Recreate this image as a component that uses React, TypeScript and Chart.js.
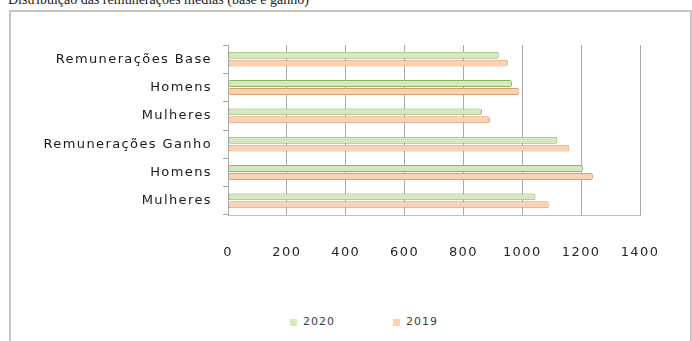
import { useEffect, useRef } from "react";
import { Chart, registerables } from "chart.js";

Chart.register(...registerables);

const titleText = "Distribuição das remunerações médias (base e ganho)";
const categories = [
  "Remunerações Base",
  "Homens",
  "Mulheres",
  "Remunerações Ganho",
  "Homens",
  "Mulheres",
];
const seriesNames = ["2020", "2019"];
const values2020 = [920, 965, 863, 1119, 1206, 1045];
const values2019 = [951, 990, 890, 1160, 1240, 1090];
const xMin = 0;
const xMax = 1400;
const xStep = 200;

const colors2020 = { fill: "#d5e8bf", edge: "#8fb163" };
const colors2019 = { fill: "#fbd3b2", edge: "#dd9b68" };

const spacingPlugin = {
  id: "letterSpacing",
  beforeDraw(chart: any) {
    chart.ctx.letterSpacing = "1.4px";
  },
  afterDraw(chart: any) {
    chart.ctx.letterSpacing = "0px";
  },
};

export default function App() {
  const ref = useRef<HTMLCanvasElement | null>(null);

  useEffect(() => {
    if (!ref.current) return;
    const font = { family: "'DejaVu Sans', Verdana, sans-serif", size: 13 };
    const barStyle = {
      borderWidth: 1,
      borderSkipped: false,
      borderRadius: 2,
      categoryPercentage: 0.56,
      barPercentage: 0.88,
    };
    const chart = new Chart(ref.current, {
      type: "bar",
      data: {
        labels: categories,
        datasets: [
          {
            label: seriesNames[0],
            data: values2020,
            backgroundColor: colors2020.fill,
            borderColor: colors2020.edge,
            ...barStyle,
          },
          {
            label: seriesNames[1],
            data: values2019,
            backgroundColor: colors2019.fill,
            borderColor: colors2019.edge,
            ...barStyle,
          },
        ],
      },
      options: {
        indexAxis: "y",
        responsive: false,
        animation: false,
        devicePixelRatio: 1,
        layout: { padding: { top: 33, right: 50, bottom: 37, left: 0 } },
        plugins: {
          legend: { display: false },
          title: { display: false },
          tooltip: { enabled: false },
        },
        scales: {
          x: {
            min: xMin,
            max: xMax,
            ticks: {
              stepSize: xStep,
              padding: 30,
              color: "#262626",
              font,
              maxRotation: 0,
              callback: (v: any) => String(v),
            },
            grid: { color: "#a9a9a9", drawTicks: false, lineWidth: 1 },
            border: { display: true, color: "#c0c0c0" },
            afterFit: (s: any) => {
              s.height = 50;
            },
          },
          y: {
            ticks: { padding: 11, color: "#1a1a1a", font },
            grid: {
              drawOnChartArea: false,
              drawTicks: true,
              tickLength: 5,
              offset: true,
              color: "#a9a9a9",
            },
            border: { display: true, color: "#a9a9a9" },
            afterFit: (s: any) => {
              s.width = 217;
            },
          },
        },
      },
      plugins: [spacingPlugin],
    } as any);
    return () => chart.destroy();
  }, []);

  const legendText = {
    fontFamily: "'DejaVu Sans', Verdana, sans-serif",
    fontSize: 11,
    letterSpacing: "1px",
    color: "#404040",
    lineHeight: "14px",
  };

  return (
    <>
      <div
        style={{
          position: "absolute",
          left: 8,
          top: -8,
          fontFamily: "'Liberation Serif', 'Times New Roman', serif",
          fontSize: 14,
          lineHeight: "16px",
          whiteSpace: "nowrap",
          color: "#222",
        }}
      >
        {titleText}
      </div>
      <div
        style={{
          position: "absolute",
          left: 9,
          top: 10,
          width: 679,
          height: 340,
          border: "2px solid #c6c6c6",
          borderBottom: "none",
          background: "#fff",
          overflow: "hidden",
        }}
      >
        <canvas
          ref={ref}
          width={679}
          height={290}
          style={{ position: "absolute", left: 0, top: 0 }}
        />
      </div>
      <div
        style={{
          position: "absolute",
          left: 290,
          top: 315,
          display: "flex",
          alignItems: "center",
          gap: 58,
        }}
      >
        {[colors2020, colors2019].map((c, i) => (
          <div key={i} style={{ display: "flex", alignItems: "center" }}>
            <span
              style={{
                display: "inline-block",
                width: 7,
                height: 7,
                background: c.fill,
                marginRight: 6,
              }}
            />
            <span style={legendText}>{seriesNames[i]}</span>
          </div>
        ))}
      </div>
    </>
  );
}
